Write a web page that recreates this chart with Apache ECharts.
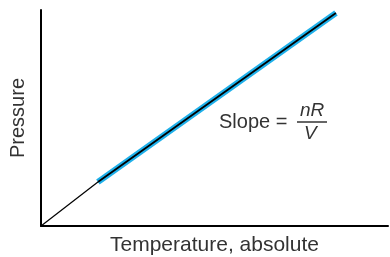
<!DOCTYPE html>
<html>
<head>
<meta charset="utf-8">
<script src="https://cdn.jsdelivr.net/npm/echarts@6/dist/echarts.min.js"></script>
<style>
  html, body { margin: 0; padding: 0; background: #fff; }
  #main { width: 390px; height: 257px; }
</style>
</head>
<body>
<div id="main"></div>
<script>
// data (axis units 0..100, no ticks shown)
var lowPart = [[0, 0], [16.4, 20.4]];
var highPart = [[16.4, 20.4], [85.0, 98.6]];
var xTitle = 'Temperature, absolute';
var yTitle = 'Pressure';

var myChart = echarts.init(document.getElementById('main'));

var font = 'Liberation Sans, Arial, sans-serif';

var option = {
    animation: false,
    grid: { left: 41, right: 2, top: 10, bottom: 31, outerBoundsMode: 'none', containLabel: false },
    xAxis: {
        type: 'value', min: 0, max: 100,
        name: xTitle, nameLocation: 'middle', nameGap: 9,
        nameTextStyle: { fontFamily: font, fontSize: 21, color: '#333' },
        axisLine: { show: true, lineStyle: { color: '#000', width: 2 } },
        axisTick: { show: false }, axisLabel: { show: false }, splitLine: { show: false }
    },
    yAxis: {
        type: 'value', min: 0, max: 100,
        name: yTitle, nameLocation: 'middle', nameGap: 13, nameRotate: 90,
        nameTextStyle: { fontFamily: font, fontSize: 20, color: '#333' },
        axisLine: { show: true, lineStyle: { color: '#000', width: 2 } },
        axisTick: { show: false }, axisLabel: { show: false }, splitLine: { show: false }
    },
    series: [
        { type: 'line', data: lowPart, symbol: 'none', lineStyle: { color: '#000', width: 1.2 } },
        { type: 'line', data: highPart, symbol: 'none', lineStyle: { color: '#1fb0ea', width: 6 } },
        { type: 'line', data: highPart, symbol: 'none', lineStyle: { color: '#000', width: 1.8 } }
    ],
    graphic: [
        { type: 'text', left: 219, top: 112, style: { text: 'Slope =', font: '20px ' + font, fill: '#333' } },
        { type: 'text', left: 300, top: 101, style: { text: 'nR', font: 'italic 19px ' + font, fill: '#333' } },
        { type: 'line', shape: { x1: 297, y1: 122, x2: 327, y2: 122 }, style: { stroke: '#333', lineWidth: 1.5 } },
        { type: 'text', left: 304, top: 124, style: { text: 'V', font: 'italic 19px ' + font, fill: '#333' } }
    ]
};

myChart.setOption(option);
</script>
</body>
</html>
